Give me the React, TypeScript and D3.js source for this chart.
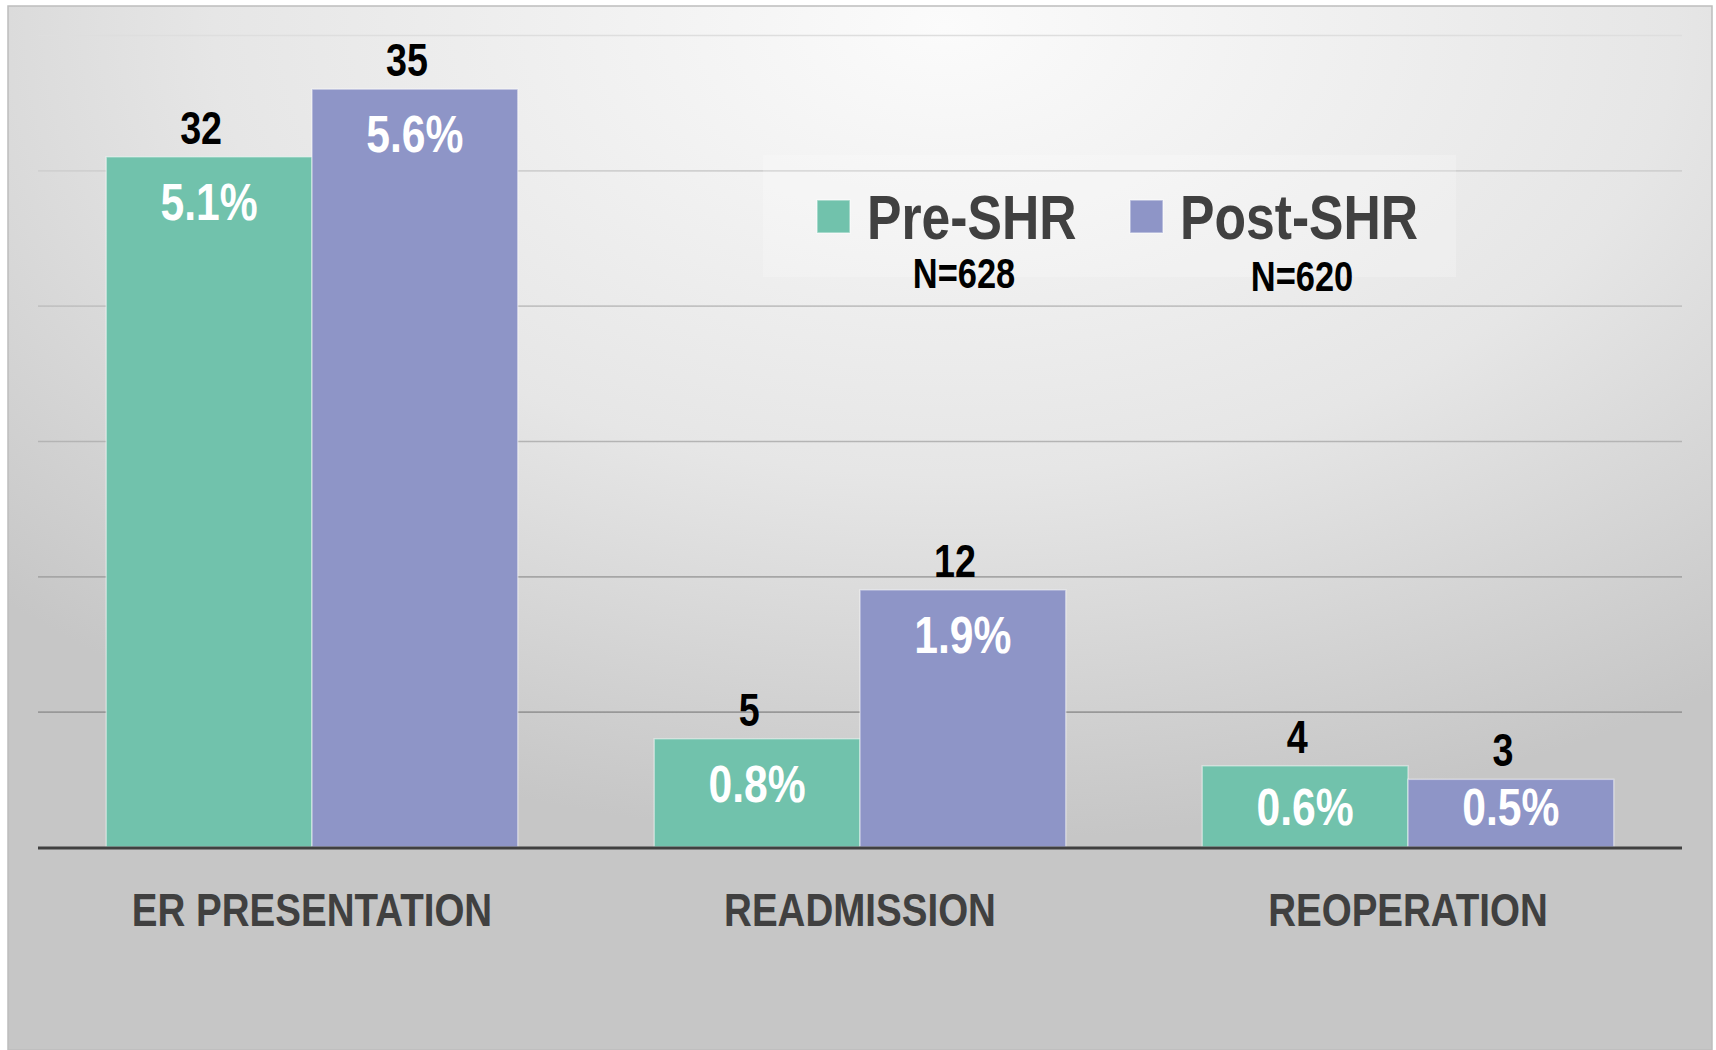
import React, { useEffect, useRef } from 'react';
import * as d3 from 'd3';

const categories = ["ER PRESENTATION", "READMISSION", "REOPERATION"];
const seriesNames = ["Pre-SHR", "Post-SHR"];
const seriesN = ["N=628", "N=620"];
const preCounts = [32, 5, 4];
const postCounts = [35, 12, 3];
const prePct = [5.1, 0.8, 0.6];
const postPct = [5.6, 1.9, 0.5];
const yTicks = [0, 1, 2, 3, 4, 5, 6];

const colors = ["#71c2ac", "#8e95c7"];
// no Arial Narrow here, so squeeze Liberation Sans (Arial metrics) by 0.82
const FONT = "'Liberation Sans', Arial, sans-serif";
const NARROW = 0.82;

const W = 1716, H = 1050;
const plot = { left: 38, right: 1682, top: 35, bottom: 847 };

function place(x: number, y: number) {
  return 'translate(' + x + ',' + y + ') scale(' + NARROW + ',1)';
}

export default function App() {
  const svgRef = useRef<SVGSVGElement>(null);

  useEffect(() => {
    const svg = d3.select(svgRef.current);
    svg.selectAll('*').remove();

    const defs = svg.append('defs');
    const bg = defs.append('radialGradient')
      .attr('id', 'bgGrad')
      .attr('cx', 0.55).attr('cy', 0.02).attr('r', 0.78);
    bg.append('stop').attr('offset', 0).attr('stop-color', '#fbfbfb');
    bg.append('stop').attr('offset', 0.55).attr('stop-color', '#e6e6e6');
    bg.append('stop').attr('offset', 1).attr('stop-color', '#c6c6c6');

    const gg = defs.append('linearGradient')
      .attr('id', 'gridGrad')
      .attr('gradientUnits', 'userSpaceOnUse')
      .attr('x1', 0).attr('x2', 0)
      .attr('y1', plot.top).attr('y2', plot.bottom);
    gg.append('stop').attr('offset', 0).attr('stop-color', '#dedede');
    gg.append('stop').attr('offset', 1).attr('stop-color', '#8a8a8a');

    // panel
    svg.append('rect')
      .attr('x', 8).attr('y', 6)
      .attr('width', 1704).attr('height', H - 6)
      .attr('fill', 'url(#bgGrad)')
      .attr('stroke', '#bdbdbd')
      .attr('stroke-width', 1.5);

    const x0 = d3.scaleBand<string>()
      .domain(categories)
      .range([plot.left, plot.right])
      .paddingInner(0.249)
      .paddingOuter(0.1245);
    const x1 = d3.scaleBand<string>()
      .domain(seriesNames)
      .range([0, x0.bandwidth()]);
    const y = d3.scaleLinear()
      .domain([0, 6])
      .range([plot.bottom, plot.top]);

    // gridlines
    svg.append('g').selectAll('line')
      .data(yTicks.filter(t => t > 0))
      .enter()
        .append('line')
          .attr('x1', plot.left).attr('x2', plot.right)
          .attr('y1', d => y(d) + 0.5).attr('y2', d => y(d) + 0.5)
          .attr('stroke', 'url(#gridGrad)')
          .attr('stroke-width', 1.6);

    // legend backdrop
    svg.append('rect')
      .attr('x', 763).attr('y', 155)
      .attr('width', 693).attr('height', 122)
      .attr('fill', '#ffffff')
      .attr('opacity', 0.22);

    const rows = categories.map((c, i) => ({
      cat: c,
      bars: [
        { s: seriesNames[0], count: preCounts[i], pct: prePct[i] },
        { s: seriesNames[1], count: postCounts[i], pct: postPct[i] },
      ],
    }));

    const groups = svg.append('g').selectAll('.grp')
      .data(rows)
      .enter()
        .append('g')
          .attr('class', 'grp')
          .attr('transform', d => 'translate(' + x0(d.cat) + ',0)');

    groups.selectAll('rect')
      .data(d => d.bars)
      .enter()
        .append('rect')
          .attr('x', d => x1(d.s) as number)
          .attr('y', d => y(d.pct))
          .attr('width', x1.bandwidth())
          .attr('height', d => y(0) - y(d.pct))
          .attr('fill', (d, i) => colors[i])
          .attr('stroke', 'rgba(255,255,255,0.45)')
          .attr('stroke-width', 1.5);

    // percentage labels inside bars
    groups.selectAll('.pct')
      .data(d => d.bars)
      .enter()
        .append('text')
          .attr('class', 'pct')
          .attr('transform', d => place((x1(d.s) as number) + x1.bandwidth() / 2,
                                        Math.min(y(d.pct) + 63, y(0) - 22)))
          .attr('text-anchor', 'middle')
          .attr('font-family', FONT)
          .attr('font-weight', 'bold')
          .attr('font-size', '52px')
          .attr('fill', '#ffffff')
          .text(d => d.pct.toFixed(1) + '%');

    // count labels above bars
    groups.selectAll('.cnt')
      .data(d => d.bars)
      .enter()
        .append('text')
          .attr('class', 'cnt')
          .attr('transform', d => place((x1(d.s) as number) + x1.bandwidth() / 2 - 8,
                                        y(d.pct) - 13))
          .attr('text-anchor', 'middle')
          .attr('font-family', FONT)
          .attr('font-weight', 'bold')
          .attr('font-size', '46px')
          .attr('fill', '#000000')
          .text(d => d.count);

    // baseline
    svg.append('line')
      .attr('x1', plot.left).attr('x2', plot.right)
      .attr('y1', y(0) + 1).attr('y2', y(0) + 1)
      .attr('stroke', '#404040')
      .attr('stroke-width', 3);

    // category labels
    svg.append('g').selectAll('text')
      .data(categories)
      .enter()
        .append('text')
          .attr('transform', d => place((x0(d) as number) + x0.bandwidth() / 2, 926))
          .attr('text-anchor', 'middle')
          .attr('font-family', FONT)
          .attr('font-weight', 'bold')
          .attr('font-size', '47px')
          .attr('fill', '#404040')
          .text(d => d);

    // legend
    const legendX = [817, 1130];
    const nLabelX = [964, 1302];
    const nLabelY = [288, 291];
    const items = svg.append('g').selectAll('.leg')
      .data(seriesNames)
      .enter()
        .append('g')
          .attr('class', 'leg');
    items.append('rect')
      .attr('x', (d, i) => legendX[i])
      .attr('y', 200)
      .attr('width', 33).attr('height', 33)
      .attr('fill', (d, i) => colors[i])
      .attr('stroke', 'rgba(255,255,255,0.5)')
      .attr('stroke-width', 1.5);
    items.append('text')
      .attr('transform', (d, i) => place(legendX[i] + 50, 239))
      .attr('font-family', FONT)
      .attr('font-weight', 'bold')
      .attr('font-size', '63px')
      .attr('fill', '#404040')
      .text(d => d);
    items.append('text')
      .attr('transform', (d, i) => place(nLabelX[i], nLabelY[i]))
      .attr('text-anchor', 'middle')
      .attr('font-family', FONT)
      .attr('font-weight', 'bold')
      .attr('font-size', '42px')
      .attr('fill', '#000000')
      .text((d, i) => seriesN[i]);
  }, []);

  return (
    <svg ref={svgRef} width={W} height={H}
         style={{ position: 'absolute', left: 0, top: 0, display: 'block' }} />
  );
}
